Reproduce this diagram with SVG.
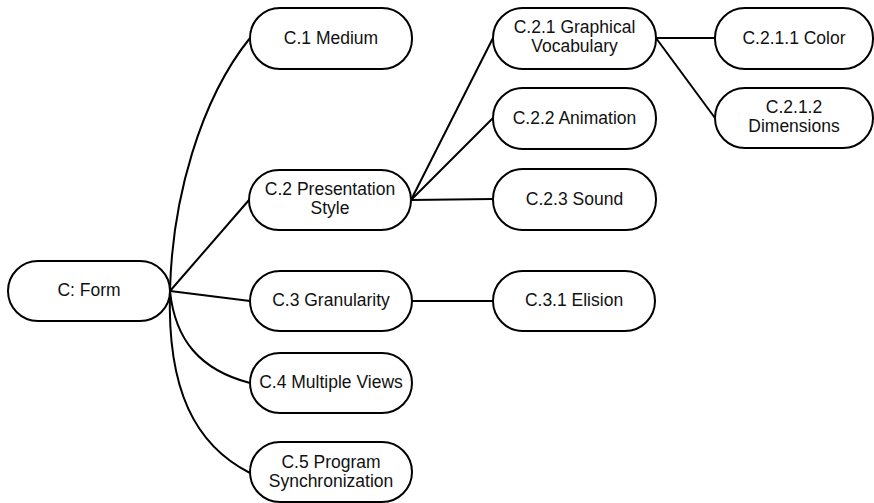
<svg xmlns="http://www.w3.org/2000/svg" width="874" height="503" viewBox="0 0 874 503">
  <style>
    .node rect { fill: #ffffff; stroke: #000000; stroke-width: 2; }
    .node text { font-family: "Liberation Sans", Arial, sans-serif; font-size: 17.5px; fill: #111111; text-anchor: middle; }
    .edges path { fill: none; stroke: #000000; stroke-width: 2; }
  </style>
  <rect width="874" height="503" fill="#ffffff"/>

  <!-- connectors -->
  <g id="edges" class="edges">
    <path d="M170,291 C172,200 200,100 250,38"/>
    <path d="M170,291 L249,200"/>
    <path d="M170,291 L250,301"/>
    <path d="M170,291 C175,340 200,370 250,383"/>
    <path d="M170,291 C167,390 195,445 250,473"/>
    <path d="M411,200 L493,38"/>
    <path d="M411,200 L493,118"/>
    <path d="M411,200 L493,199"/>
    <path d="M656,38 L715,38"/>
    <path d="M656,38 L715,118"/>
    <path d="M412,301 L493,301"/>
  </g>

  <!-- nodes -->
  <g id="form" class="node">
    <rect x="8" y="261" width="162" height="60" rx="30"/>
    <text x="89" y="296">C: Form</text>
  </g>
  <g id="medium" class="node">
    <rect x="250" y="8" width="162" height="61" rx="30"/>
    <text x="331" y="43.5">C.1 Medium</text>
  </g>
  <g id="presentation" class="node">
    <rect x="249" y="170" width="162" height="60" rx="30"/>
    <text x="330" y="194.5">C.2 Presentation</text>
    <text x="330" y="213.5">Style</text>
  </g>
  <g id="granularity" class="node">
    <rect x="250" y="271" width="162" height="60" rx="30"/>
    <text x="331" y="306">C.3 Granularity</text>
  </g>
  <g id="views" class="node">
    <rect x="250" y="353" width="162" height="60" rx="30"/>
    <text x="331" y="388">C.4 Multiple Views</text>
  </g>
  <g id="sync" class="node">
    <rect x="250" y="442" width="162" height="60" rx="30"/>
    <text x="331" y="467.5">C.5 Program</text>
    <text x="331" y="486.5">Synchronization</text>
  </g>
  <g id="vocabulary" class="node">
    <rect x="493" y="8" width="163" height="61" rx="30"/>
    <text x="574.5" y="32.5">C.2.1 Graphical</text>
    <text x="574.5" y="51.5">Vocabulary</text>
  </g>
  <g id="animation" class="node">
    <rect x="493" y="88" width="163" height="61" rx="30"/>
    <text x="574.5" y="123.5">C.2.2 Animation</text>
  </g>
  <g id="sound" class="node">
    <rect x="493" y="169" width="163" height="61" rx="30"/>
    <text x="574.5" y="204.5">C.2.3 Sound</text>
  </g>
  <g id="elision" class="node">
    <rect x="493" y="271" width="162" height="60" rx="30"/>
    <text x="574" y="306">C.3.1 Elision</text>
  </g>
  <g id="color" class="node">
    <rect x="715" y="8" width="158" height="61" rx="30"/>
    <text x="794" y="43.5">C.2.1.1 Color</text>
  </g>
  <g id="dimensions" class="node">
    <rect x="715" y="88" width="158" height="60" rx="30"/>
    <text x="794" y="112.5">C.2.1.2</text>
    <text x="794" y="131.5">Dimensions</text>
  </g>
</svg>
